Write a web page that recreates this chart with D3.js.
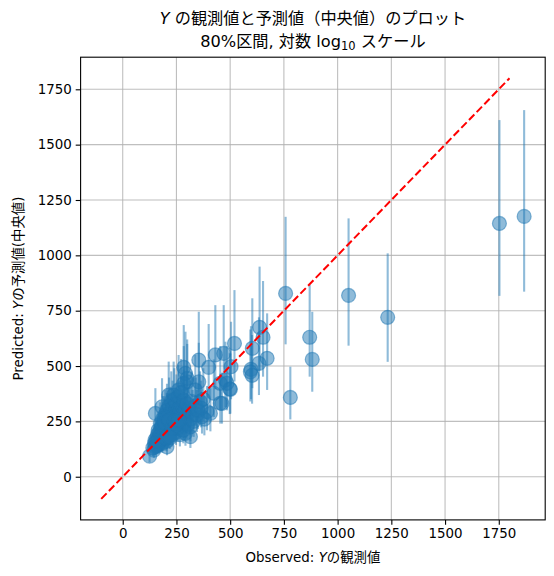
<!DOCTYPE html>
<html>
<head>
<meta charset="utf-8">
<script src="https://cdn.jsdelivr.net/npm/d3@7"></script>
<style>
  body { margin: 0; background: #fff; }
  text { font-family: "DejaVu Sans", "Noto Sans CJK JP", sans-serif; }
</style>
</head>
<body>
<svg id="chart"></svg>
<script>
// observed Y, predicted median, 80% interval lower / upper
var observed = [
  1753, 1868, 758, 1051, 1233, 870, 882, 780, 637, 653,
  520, 603, 672, 634, 597, 602, 504, 498, 462, 470,
  431, 354, 284, 400, 478, 300, 354, 501, 594, 260,
  214, 424, 408, 369, 454, 292, 284, 315, 292, 125,
  152, 338, 392, 315, 206, 237, 183, 300, 454, 485,
  140, 148, 150, 155, 158, 160, 162, 165, 168, 170,
  172, 175, 178, 180, 182, 184, 186, 188, 190, 192,
  194, 196, 198, 200, 202, 204, 206, 208, 210, 212,
  214, 216, 218, 220, 222, 224, 226, 228, 230, 232,
  234, 236, 238, 240, 242, 244, 246, 248, 250, 252,
  254, 256, 258, 260, 262, 264, 266, 268, 270, 272,
  274, 276, 278, 280, 282, 284, 286, 288, 290, 295,
  298, 302, 305, 310, 315, 320, 325, 330, 340, 345,
  350, 360, 365, 375, 380, 165, 170, 175, 180, 185,
  190, 195, 200, 205, 210, 215, 220, 225, 160, 150,
  145, 155, 165, 175, 185, 195, 205, 215, 200, 210,
  220, 230, 240, 250, 260
];
var predicted = [
  1144, 1176, 828, 819, 720, 630, 530, 358, 675, 630,
  602, 580, 535, 512, 485, 458, 497, 397, 331, 557,
  550, 527, 494, 494, 437, 429, 429, 395, 474, 392,
  369, 377, 286, 271, 422, 467, 422, 181, 196, 93,
  286, 392, 294, 226, 135, 369, 316, 444, 332, 422,
  130, 150, 165, 140, 175, 155, 190, 170, 145, 200,
  160, 215, 185, 170, 230, 150, 205, 240, 185, 260,
  170, 220, 280, 195, 250, 160, 300, 230, 210, 270,
  180, 320, 245, 200, 290, 225, 340, 260, 190, 310,
  240, 275, 215, 350, 265, 230, 300, 200, 330, 255,
  285, 220, 360, 270, 240, 310, 190, 295, 250, 380,
  280, 230, 320, 265, 210, 345, 290, 245, 300, 270,
  330, 235, 290, 310, 260, 340, 280, 250, 320, 280,
  300, 340, 310, 350, 260, 150, 180, 165, 195, 175,
  210, 190, 225, 205, 240, 215, 255, 235, 140, 135,
  120, 160, 210, 240, 260, 245, 270, 255, 175, 185,
  175, 220, 250, 235, 255
];
var lower = [
  817, 836, 598, 592, 519, 452, 384, 259, 480, 452,
  430, 400, 392, 369, 350, 330, 350, 283, 240, 400,
  395, 380, 355, 355, 315, 310, 305, 285, 340, 280,
  265, 270, 205, 195, 305, 335, 300, 130, 140, 66,
  205, 280, 210, 160, 97, 265, 225, 320, 240, 300,
  94, 108, 119, 101, 126, 112, 137, 122, 104, 144,
  115, 155, 133, 122, 166, 108, 148, 173, 133, 187,
  122, 158, 202, 140, 180, 115, 216, 166, 151, 194,
  130, 230, 176, 144, 209, 162, 245, 187, 137, 223,
  173, 198, 155, 252, 191, 166, 216, 144, 238, 184,
  205, 158, 259, 194, 173, 223, 137, 212, 180, 274,
  202, 166, 230, 191, 151, 248, 209, 176, 216, 194,
  238, 169, 209, 223, 187, 245, 202, 180, 230, 202,
  216, 245, 223, 252, 187, 108, 130, 119, 140, 126,
  151, 137, 162, 148, 173, 155, 184, 169, 101, 97,
  86, 115, 151, 173, 187, 176, 194, 184, 126, 133,
  126, 158, 180, 169, 184
];
var upper = [
  1611, 1656, 1174, 1167, 1009, 866, 745, 497, 949, 884,
  843, 806, 738, 720, 680, 640, 700, 560, 470, 775,
  775, 745, 685, 690, 610, 600, 605, 555, 665, 550,
  520, 530, 400, 380, 590, 655, 590, 255, 275, 130,
  400, 550, 410, 315, 190, 520, 445, 620, 465, 590,
  182, 210, 231, 196, 245, 217, 266, 238, 203, 280,
  224, 301, 259, 238, 322, 210, 287, 336, 259, 364,
  238, 308, 392, 273, 350, 224, 420, 322, 294, 378,
  252, 448, 343, 280, 406, 315, 476, 364, 266, 434,
  336, 385, 301, 490, 371, 322, 420, 280, 462, 357,
  399, 308, 504, 378, 336, 434, 266, 413, 350, 532,
  392, 322, 448, 371, 294, 483, 406, 343, 420, 378,
  462, 329, 406, 434, 364, 476, 392, 350, 448, 392,
  420, 476, 434, 490, 364, 210, 252, 231, 273, 245,
  294, 266, 315, 287, 336, 301, 357, 329, 196, 189,
  168, 224, 294, 336, 364, 343, 378, 357, 245, 259,
  245, 308, 350, 329, 357
];
var diagonal = [-100, 1800];
var xTicks = [0, 250, 500, 750, 1000, 1250, 1500, 1750];
var yTicks = [0, 250, 500, 750, 1000, 1250, 1500, 1750];

var W = 554, H = 576;
var padL = 80.6, padR = 545.2, padT = 57.2, padB = 519.9;
var blue = "#1f77b4";

var svg = d3.select("#chart").attr("width", W).attr("height", H);

var x = d3.scaleLinear().domain([-196, 1966]).range([padL, padR]);
var y = d3.scaleLinear().domain([-195, 1895]).range([padB, padT]);

var pts = observed.map(function(o, i) {
  return { obs: o, pred: predicted[i], lo: lower[i], hi: upper[i] };
});

// grid
svg.append("g").selectAll("line").data(xTicks).enter().append("line")
  .attr("x1", d => x(d)).attr("x2", d => x(d))
  .attr("y1", padT).attr("y2", padB)
  .attr("stroke", "#b0b0b0").attr("stroke-width", 1.1).attr("opacity", 0.8);
svg.append("g").selectAll("line").data(yTicks).enter().append("line")
  .attr("y1", d => y(d)).attr("y2", d => y(d))
  .attr("x1", padL).attr("x2", padR)
  .attr("stroke", "#b0b0b0").attr("stroke-width", 1.1).attr("opacity", 0.8);

// error bars
svg.append("g").selectAll("line").data(pts).enter().append("line")
  .attr("x1", d => x(d.obs)).attr("x2", d => x(d.obs))
  .attr("y1", d => y(d.lo)).attr("y2", d => y(d.hi))
  .attr("stroke", blue).attr("stroke-width", 2.1).attr("stroke-opacity", 0.5);

// points
svg.append("g").selectAll("circle").data(pts).enter().append("circle")
  .attr("cx", d => x(d.obs)).attr("cy", d => y(d.pred))
  .attr("r", 7)
  .attr("fill", blue).attr("fill-opacity", 0.5)
  .attr("stroke", blue).attr("stroke-opacity", 0.5).attr("stroke-width", 1.2);

// y = x reference line
svg.append("line")
  .attr("x1", x(diagonal[0])).attr("y1", y(diagonal[0]))
  .attr("x2", x(diagonal[1])).attr("y2", y(diagonal[1]))
  .attr("stroke", "#ff0000").attr("stroke-width", 2)
  .attr("stroke-dasharray", "7.7,3.3");

// axes
var fmt = d3.format("d");
var xAxis = d3.axisBottom(x).tickValues(xTicks).tickFormat(fmt).tickSize(4.9).tickPadding(4);
var yAxis = d3.axisLeft(y).tickValues(yTicks).tickFormat(fmt).tickSize(4.9).tickPadding(4);
var gx = svg.append("g").attr("transform", "translate(0," + padB + ")").call(xAxis);
var gy = svg.append("g").attr("transform", "translate(" + padL + ",0)").call(yAxis);
[gx, gy].forEach(function(g) {
  g.select(".domain").remove();
  g.selectAll(".tick line").attr("stroke", "#000").attr("stroke-width", 1.1);
  g.selectAll(".tick text").attr("fill", "#000")
    .style("font-size", "13.4px").style("font-family", "'DejaVu Sans', 'Noto Sans CJK JP'");
});

// frame
svg.append("rect").attr("x", padL).attr("y", padT)
  .attr("width", padR - padL).attr("height", padB - padT)
  .attr("fill", "none").attr("stroke", "#000").attr("stroke-width", 1.1);

// titles
var cx = (padL + padR) / 2;
var t1 = svg.append("text").attr("x", cx).attr("y", 24)
  .attr("text-anchor", "middle").style("font-size", "16.2px");
t1.append("tspan").style("font-style", "italic").text("Y");
t1.append("tspan").text(" の観測値と予測値（中央値）のプロット");

var t2 = svg.append("text").attr("x", cx).attr("y", 47)
  .attr("text-anchor", "middle").style("font-size", "16.2px");
t2.append("tspan").text("80%区間, 対数 log");
t2.append("tspan").attr("dy", 3).style("font-size", "11.5px").text("10");
t2.append("tspan").attr("dy", -3).text(" スケール");

var xl = svg.append("text").attr("x", cx).attr("y", 562)
  .attr("text-anchor", "middle").style("font-size", "13.4px");
xl.append("tspan").text("Observed: ");
xl.append("tspan").style("font-style", "italic").text("Y");
xl.append("tspan").text("の観測値");

var yl = svg.append("text")
  .attr("transform", "translate(23," + ((padT + padB) / 2) + ") rotate(-90)")
  .attr("text-anchor", "middle").style("font-size", "13.4px");
yl.append("tspan").text("Predicted: ");
yl.append("tspan").style("font-style", "italic").text("Y");
yl.append("tspan").text("の予測値(中央値)");
</script>
</body>
</html>
